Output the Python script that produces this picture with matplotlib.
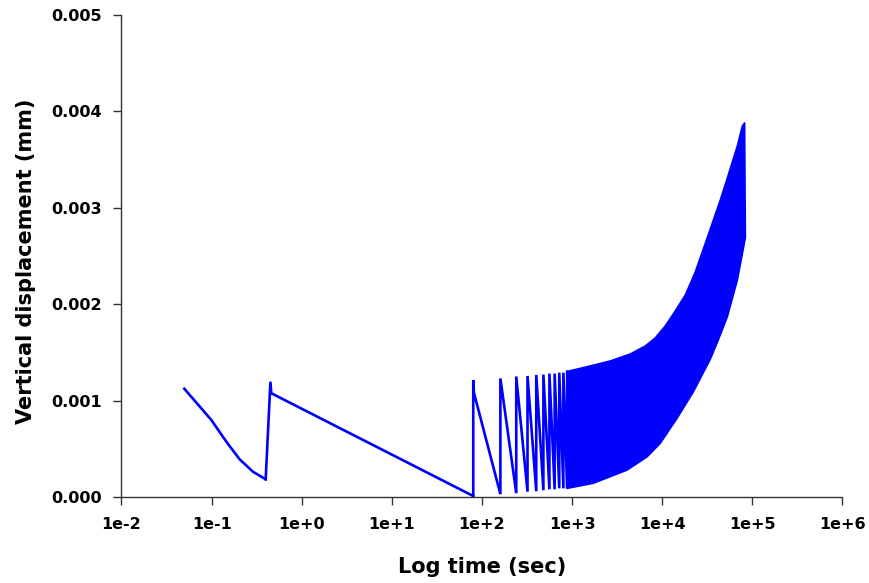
import numpy as np
import matplotlib.pyplot as plt
from matplotlib.ticker import FixedLocator, FuncFormatter, NullLocator

plt.rcParams['font.family'] = ['DejaVu Sans']
plt.rcParams['font.weight'] = 'bold'

# first loading: decay after the initial load (time in s, displacement in mm)
t_start = [0.0498, 0.0993, 0.1456, 0.2047, 0.2877, 0.398]
d_start = [0.001123, 0.000799, 0.000574, 0.000391, 0.000262, 0.000184]

# second pulse, then the long rest
t_pulse = [0.398, 0.449, 0.46, 80]
d_pulse = [0.000184, 0.001186, 0.001076, 0.00001]

# single cycles that can still be told apart (jump to peak, then decay)
t_cyc = [80, 160, 240, 320, 400, 480, 560, 640, 720, 800, 880]
peak_cyc = [0.00121, 0.00123, 0.00125, 0.001255, 0.001266, 0.00127, 0.00128, 0.00128, 0.00129, 0.00129, 0.0013]
trough_cyc = [0.00001, 0.00003, 0.00004, 0.000055, 0.00006, 0.00007, 0.00008, 0.00008, 0.00009, 0.00009, 0.00009]
# first cycle drops back a little right after its peak
t_shoulder = 81.5
d_shoulder = 0.00108

# dense part: envelope of the cycles
t_up = [880, 1585, 2645, 4410, 6470, 8360, 10800, 13940, 18020, 23270, 34150,
        44100, 52760, 68130, 77430, 82000]
d_up = [0.001302, 0.001359, 0.001411, 0.001483, 0.001566, 0.001649, 0.001774, 0.001929,
        0.002095, 0.002334, 0.00278, 0.003081, 0.003309, 0.003641, 0.003849, 0.00388]
t_low = [880, 1710, 4080, 6810, 9500, 14680, 22090, 34150, 41900, 52760, 68130, 83600]
d_low = [0.00009, 0.000142, 0.00028, 0.000418, 0.000557, 0.00082, 0.00109, 0.00143,
         0.00163, 0.00187, 0.00225, 0.00269]

x_ticks = [1e-2, 1e-1, 1e0, 1e1, 1e2, 1e3, 1e4, 1e5, 1e6]
y_ticks = [0.000, 0.001, 0.002, 0.003, 0.004, 0.005]

fig = plt.figure(figsize=(8.69, 5.83), dpi=100)
ax = fig.add_axes([0.1398, 0.1475, 0.8297, 0.8268])

blue = '#0000ff'
lw = 1.9
ax.plot(t_start, d_start, color=blue, lw=lw, solid_joinstyle='round')
ax.plot(t_pulse, d_pulse, color=blue, lw=lw, solid_joinstyle='round')

zx, zy = [], []
for i in range(len(t_cyc)):
    zx += [t_cyc[i], t_cyc[i]]
    zy += [trough_cyc[i], peak_cyc[i]]
    if i == 0:
        zx.append(t_shoulder)
        zy.append(d_shoulder)
ax.plot(zx, zy, color=blue, lw=lw, solid_joinstyle='miter')

# band outline: upper edge forward, lower edge back
bx = t_up + [t_low[-1]] + t_low[::-1]
by = d_up + [d_low[-1]] + d_low[::-1]
ax.fill(bx, by, color=blue, lw=1.2, edgecolor=blue, joinstyle='round')

ax.set_xscale('log')
ax.set_xlim(1e-2, 1e6)
ax.set_ylim(0, 0.005)

ax.xaxis.set_major_locator(FixedLocator(x_ticks))
ax.xaxis.set_minor_locator(NullLocator())
ax.xaxis.set_major_formatter(FuncFormatter(lambda v, p: '1e%+d' % int(round(np.log10(v)))))
ax.yaxis.set_major_locator(FixedLocator(y_ticks))
ax.yaxis.set_major_formatter(FuncFormatter(lambda v, p: '%.3f' % v))

for s in ['top', 'right']:
    ax.spines[s].set_visible(False)
for s in ['left', 'bottom']:
    ax.spines[s].set_color('#333333')
    ax.spines[s].set_linewidth(1.0)
ax.tick_params(direction='out', length=6, width=1, color='#333333', labelsize=11.5)
ax.tick_params(axis='x', pad=8.5)
ax.tick_params(axis='y', pad=8)

ax.set_xlabel('Log time (sec)', fontsize=15, fontweight='bold')
ax.set_ylabel('Vertical displacement (mm)', fontsize=15, fontweight='bold')
ax.xaxis.set_label_coords(0.5, -0.1245)
ax.yaxis.set_label_coords(-0.119, 0.49)

plt.savefig('out.png', dpi=100)
